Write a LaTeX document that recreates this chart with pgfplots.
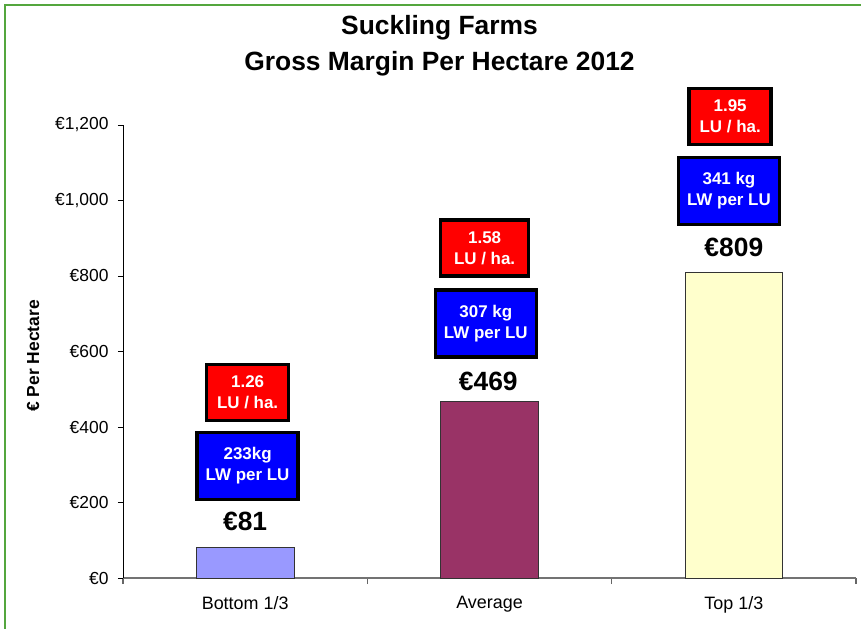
\documentclass[border=0pt]{standalone}
\usepackage{fontspec}
\setmainfont{Liberation Sans}
\usepackage{pgfplots}
\pgfplotsset{compat=1.18}
\definecolor{barA}{HTML}{9999FF}
\definecolor{barB}{HTML}{993366}
\definecolor{barC}{HTML}{FFFFCC}
\definecolor{frameg}{RGB}{84,166,62}
\begin{document}
\begin{tikzpicture}
\begin{axis}[
  at={(0,0)}, anchor=south west,
  scale only axis,
  width=733bp, height=453bp,
  xmin=-0.5, xmax=2.5,
  ymin=0, ymax=1200,
  axis x line*=bottom,
  axis y line*=left,
  x axis line style={draw=black!55, line width=1.2bp, -},
  y axis line style={draw=black, line width=0.8bp, -},
  xtick={0,1,2},
  xticklabels={Bottom 1/3, Average, Top 1/3},
  major x tick style={draw=none},
  minor xtick={-0.5,0.5,1.5,2.5},
  minor x tick style={draw=black!60, line width=1.2bp},
  minor tick length=6bp,
  ytick={0,200,...,1200},
  major tick length=5bp,
  tick align=outside,
  y tick style={draw=black, line width=0.8bp},
  /pgf/number format/assume math mode=true,
  /pgf/number format/1000 sep={,},
  yticklabel={€\pgfmathprintnumber{\tick}},
  yticklabel style={font=\fontsize{17.5}{19}\selectfont, xshift=-6bp},
  xticklabel style={font=\fontsize{18}{20}\selectfont, yshift=-10bp},
  clip=false,
]
\addplot[ybar, bar width=0.4, fill=barA, draw=black!80, line width=0.8bp] coordinates {(0,81)};
\addplot[ybar, bar width=0.4, fill=barB, draw=black!80, line width=0.8bp] coordinates {(1,469)};
\addplot[ybar, bar width=0.4, fill=barC, draw=black!80, line width=0.8bp] coordinates {(2,809)};

\tikzset{
  redbox/.style={fill=red, draw=black, line width=3.5bp, text=white, align=center,
    font=\bfseries\fontsize{17}{21}\selectfont, minimum width=82bp, minimum height=56bp, inner sep=1bp},
  bluebox/.style={fill=blue, draw=black, line width=3.5bp, text=white, align=center,
    font=\bfseries\fontsize{17}{21}\selectfont, minimum width=101bp, minimum height=67bp, inner sep=1bp},
  vallab/.style={font=\bfseries\fontsize{26.5}{28}\selectfont, text=black},
}
\node[redbox] at (axis cs:0.01,492) {1.26\\LU / ha.};
\node[bluebox] at (axis cs:0.01,297) {233kg\\LW per LU};
\node[vallab] at (axis cs:0,150) {€81};

\node[redbox, minimum width=88bp] at (axis cs:0.98,874) {1.58\\LU / ha.};
\node[bluebox] at (axis cs:0.985,674) {307 kg\\LW per LU};
\node[vallab] at (axis cs:0.995,522) {€469};

\node[redbox] at (axis cs:1.985,1222) {1.95\\LU / ha.};
\node[bluebox] at (axis cs:1.98,1025) {341 kg\\LW per LU};
\node[vallab] at (axis cs:2.0,877) {€809};
\end{axis}
\node[font=\bfseries\fontsize{26.5}{28}\selectfont] at (316.5bp,550bp) {Suckling Farms};
\node[font=\bfseries\fontsize{26.5}{28}\selectfont] at (316.5bp,514bp) {Gross Margin Per Hectare 2012};
\node[font=\bfseries\fontsize{17.5}{19}\selectfont, rotate=90] at (-90bp,222bp) {€ Per Hectare};
\draw[frameg, line width=2.5bp] (-118bp,-60bp) -- (-118bp,573bp) -- (745bp,573bp);
\pgfresetboundingbox
\path[use as bounding box] (-123bp,-51bp) rectangle (738bp,578bp);
\end{tikzpicture}
\end{document}
